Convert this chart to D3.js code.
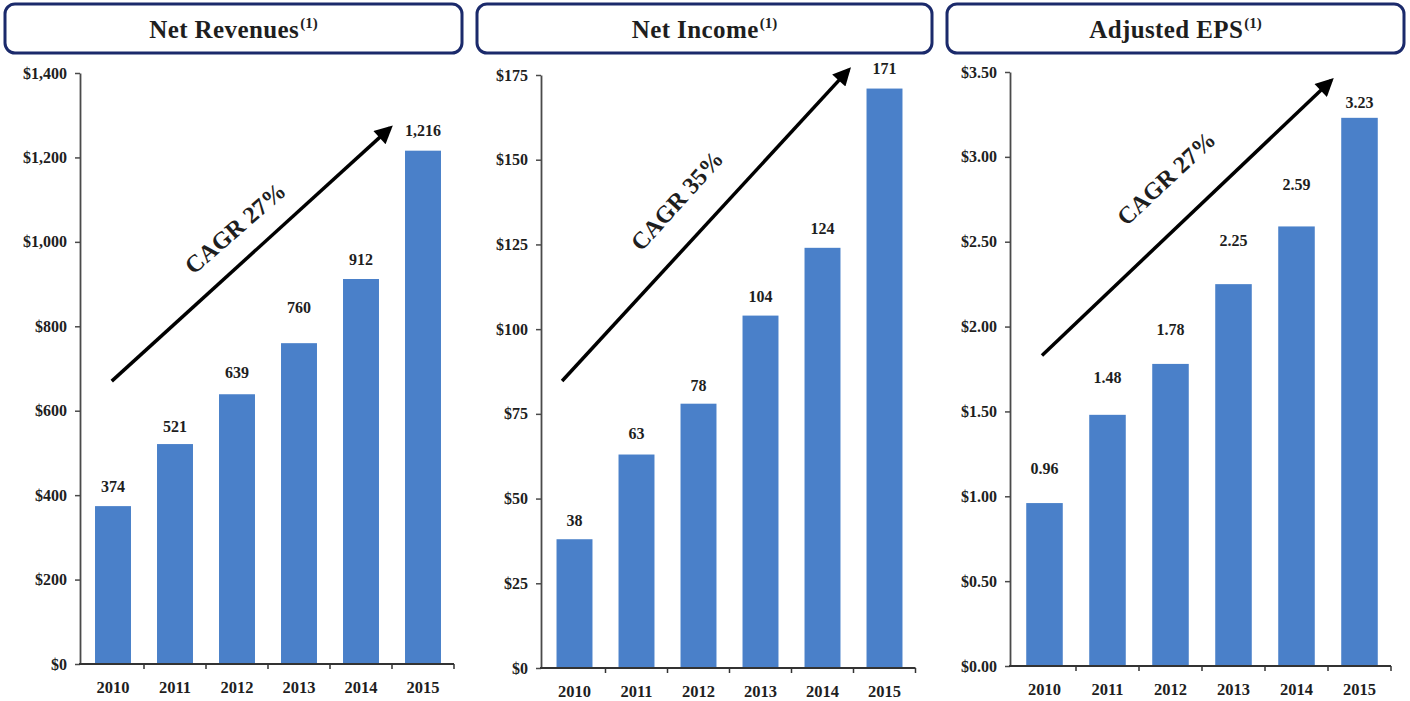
<!DOCTYPE html>
<html>
<head>
<meta charset="utf-8">
<script src="https://cdn.jsdelivr.net/npm/d3@7"></script>
<style>
  html, body { margin: 0; padding: 0; background: #ffffff; }
  svg { display: block; }
  text { font-family: "Liberation Serif", "Times New Roman", serif; font-weight: bold; fill: #1e1e1e; }
</style>
</head>
<body>
<svg id="chart" width="1410" height="701"></svg>
<script>
// ---------- data ----------
const years = ["2010", "2011", "2012", "2013", "2014", "2015"];

const netRevenues = [374, 521, 639, 760, 912, 1216];
const netIncome   = [38, 63, 78, 104, 124, 171];
const adjustedEps = [0.96, 1.48, 1.78, 2.25, 2.59, 3.23];

const revenueTicks      = [0, 200, 400, 600, 800, 1000, 1200, 1400];
const revenueTickLabels = ["$0", "$200", "$400", "$600", "$800", "$1,000", "$1,200", "$1,400"];
const incomeTicks       = [0, 25, 50, 75, 100, 125, 150, 175];
const incomeTickLabels  = ["$0", "$25", "$50", "$75", "$100", "$125", "$150", "$175"];
const epsTicks          = [0, 0.5, 1, 1.5, 2, 2.5, 3, 3.5];
const epsTickLabels     = ["$0.00", "$0.50", "$1.00", "$1.50", "$2.00", "$2.50", "$3.00", "$3.50"];

const titles = ["Net Revenues", "Net Income", "Adjusted EPS"];
const titleNote = "(1)";
const cagrLabels = ["CAGR 27%", "CAGR 35%", "CAGR 27%"];

// ---------- layout / style config ----------
const panels = [
  { title: titles[0], values: netRevenues, ticks: revenueTicks, tickLabels: revenueTickLabels,
    fmt: d3.format(","), box: [5, 462], axisX: 80, xr: [82, 454], yr: [664, 73],
    labelLift: [19, 17, 21, 35, 19, 20],
    arrow: { from: [-0.02, 670], to: [4.47, 1270] },
    cagr: { at: [1.97, 1033], angle: -41 } },
  { title: titles[1], values: netIncome, ticks: incomeTicks, tickLabels: incomeTickLabels,
    fmt: d3.format("d"), box: [477, 932], axisX: 541, xr: [543.5, 915.5], yr: [668, 75],
    labelLift: [18, 21, 18, 19, 19, 20],
    arrow: { from: [-0.2, 84.7], to: [4.42, 176.5] },
    cagr: { at: [1.65, 138], angle: -48 } },
  { title: titles[2], values: adjustedEps, ticks: epsTicks, tickLabels: epsTickLabels,
    fmt: d3.format(".2f"), box: [947, 1404], axisX: 1010, xr: [1013, 1391], yr: [666, 72],
    labelLift: [34, 37, 34, 43, 41, 15],
    arrow: { from: [-0.04, 1.83], to: [4.55, 3.45] },
    cagr: { at: [1.93, 2.875], angle: -43 } }
];

const barColor = "#4a80c9";
const axisColor = "#4a4a4a";
const boxColor = "#1b2a6b";

const svg = d3.select("#chart");

const defs = svg.append("defs");
defs.append("marker")
  .attr("id", "arrowhead")
  .attr("viewBox", "0 0 10 10")
  .attr("refX", 8).attr("refY", 5)
  .attr("markerUnits", "userSpaceOnUse")
  .attr("markerWidth", 22).attr("markerHeight", 18)
  .attr("orient", "auto")
  .append("path")
  .attr("d", "M0,0 L10,5 L0,10 Z")
  .attr("fill", "#000");

panels.forEach((p, pi) => {
  const g = svg.append("g");

  // title box
  g.append("rect")
    .attr("x", p.box[0]).attr("y", 4)
    .attr("width", p.box[1] - p.box[0]).attr("height", 49)
    .attr("rx", 10).attr("ry", 10)
    .attr("fill", "#fff")
    .attr("stroke", boxColor).attr("stroke-width", 3);

  const t = g.append("text")
    .attr("x", (p.box[0] + p.box[1]) / 2)
    .attr("y", 38)
    .attr("text-anchor", "middle")
    .style("font-size", "25px")
    .style("letter-spacing", "0.4px");
  t.append("tspan").text(p.title);
  t.append("tspan").text(titleNote)
    .attr("dy", -10)
    .attr("dx", 1)
    .style("font-size", "15px")
    .style("letter-spacing", "0px");

  // scales
  const x = d3.scaleBand().domain(years).range(p.xr).paddingInner(0.42).paddingOuter(0.21);
  const step = x.step();
  const y = d3.scaleLinear().domain([0, p.ticks[p.ticks.length - 1]]).range(p.yr);
  const xPos = (i) => p.xr[0] + (i + 0.5) * step;

  // bars
  g.selectAll("rect.bar")
    .data(p.values)
    .join("rect")
    .attr("class", "bar")
    .attr("x", (d, i) => x(years[i]))
    .attr("width", x.bandwidth())
    .attr("y", (d) => y(d))
    .attr("height", (d) => y(0) - y(d))
    .attr("fill", barColor);

  // value labels
  g.selectAll("text.val")
    .data(p.values)
    .join("text")
    .attr("class", "val")
    .attr("x", (d, i) => x(years[i]) + x.bandwidth() / 2)
    .attr("y", (d, i) => y(d) - p.labelLift[i] + 5)
    .attr("text-anchor", "middle")
    .style("font-size", "16px")
    .text((d) => p.fmt(d));

  // y axis
  const yAxis = d3.axisLeft(y)
    .tickValues(p.ticks)
    .tickFormat((d, i) => p.tickLabels[i])
    .tickSize(5)
    .tickSizeOuter(0)
    .tickPadding(8);
  const ya = g.append("g")
    .attr("transform", `translate(${p.axisX},0)`)
    .call(yAxis);
  ya.select(".domain").attr("stroke", axisColor).attr("stroke-width", 1.8);
  ya.selectAll(".tick line").attr("stroke", axisColor).attr("stroke-width", 1.5);
  ya.selectAll(".tick text")
    .style("font-family", "'Liberation Serif', serif")
    .style("font-weight", "bold")
    .style("font-size", "16px")
    .attr("fill", "#1e1e1e");

  // x axis line and boundary ticks
  g.append("line")
    .attr("x1", p.axisX - 1).attr("x2", p.xr[1])
    .attr("y1", y(0)).attr("y2", y(0))
    .attr("stroke", "#333").attr("stroke-width", 1.8);
  g.selectAll("line.xt")
    .data(years)
    .join("line")
    .attr("class", "xt")
    .attr("x1", (d, i) => p.xr[0] + (i + 1) * step)
    .attr("x2", (d, i) => p.xr[0] + (i + 1) * step)
    .attr("y1", y(0)).attr("y2", y(0) + 5)
    .attr("stroke", "#333").attr("stroke-width", 1.5);

  // year labels
  g.selectAll("text.yr")
    .data(years)
    .join("text")
    .attr("class", "yr")
    .attr("x", (d) => x(d) + x.bandwidth() / 2)
    .attr("y", y(0) + 29)
    .attr("text-anchor", "middle")
    .style("font-size", "16.5px")
    .text((d) => d);

  // CAGR arrow
  g.append("line")
    .attr("x1", xPos(p.arrow.from[0])).attr("y1", y(p.arrow.from[1]))
    .attr("x2", xPos(p.arrow.to[0])).attr("y2", y(p.arrow.to[1]))
    .attr("stroke", "#000").attr("stroke-width", 3.5)
    .attr("marker-end", "url(#arrowhead)");

  const cx = xPos(p.cagr.at[0]);
  const cy = y(p.cagr.at[1]);
  g.append("text")
    .attr("transform", `translate(${cx},${cy}) rotate(${p.cagr.angle})`)
    .attr("text-anchor", "middle")
    .attr("dy", "0.35em")
    .style("font-size", "24px")
    .text(cagrLabels[pi]);
});
</script>
</body>
</html>
